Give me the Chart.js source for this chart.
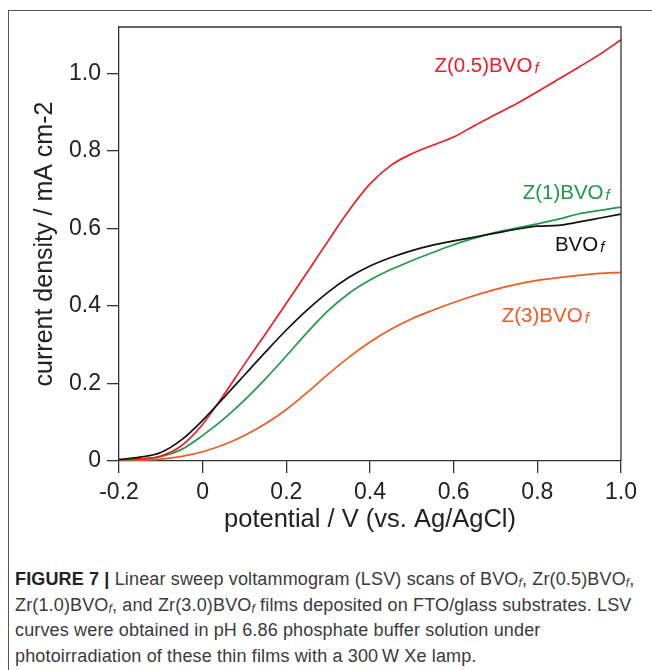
<!DOCTYPE html>
<html>
<head>
<meta charset="utf-8">
<script src="https://cdn.jsdelivr.net/npm/chart.js@4.4.1/dist/chart.umd.min.js"></script>
<style>
  html, body { margin: 0; padding: 0; background: #fff; }
  body { width: 652px; height: 670px; position: relative; overflow: hidden; font-family: "Liberation Sans", Arial, sans-serif; }
  #frame { position: absolute; left: 8px; top: 10px; width: 700px; height: 700px; border-top: 1px solid #555; border-left: 1px solid #555; }
  #wrap { position: absolute; left: 0; top: 0; width: 652px; height: 545px; }
  #caption { position: absolute; left: 15px; top: 567px; width: 640px; font-size: 18px; letter-spacing: 0.15px; line-height: 25.7px; color: #3a3a3a; white-space: nowrap; }
  #caption b { color: #222; }
  #caption sub { font-size: 12px; vertical-align: -2px; line-height: 0; }
</style>
</head>
<body>
<div id="frame"></div>
<div id="wrap"><canvas id="c" width="652" height="545"></canvas></div>
<div id="caption">
<b>FIGURE 7 |</b> Linear sweep voltammogram (LSV) scans of BVO<sub><i>f</i></sub>, Zr(0.5)BVO<sub><i>f</i></sub>,<br>
Zr(1.0)BVO<sub><i>f</i></sub>, and Zr(3.0)BVO<sub><i>f</i></sub> films deposited on FTO/glass substrates. LSV<br>
curves were obtained in pH 6.86 phosphate buffer solution under<br>
photoirradiation of these thin films with a 300&#8201;W Xe lamp.
</div>
<script>
// ---- data ----
const potential = [-0.2,-0.15,-0.1,-0.05,0,0.05,0.1,0.15,0.2,0.25,0.3,0.35,0.4,0.45,0.5,0.55,0.6,0.65,0.7,0.75,0.8,0.85,0.9,0.95,1.0];
const bvo   = [0.004,0.010,0.022,0.055,0.105,0.163,0.222,0.281,0.338,0.390,0.436,0.474,0.503,0.525,0.543,0.557,0.568,0.578,0.588,0.598,0.606,0.608,0.617,0.627,0.637];
const zr05  = [0.003,0.006,0.013,0.040,0.095,0.170,0.250,0.328,0.407,0.487,0.568,0.647,0.715,0.763,0.793,0.815,0.836,0.866,0.894,0.922,0.953,0.985,1.017,1.050,1.087];
const zr1   = [0.003,0.005,0.011,0.030,0.066,0.108,0.157,0.212,0.271,0.332,0.388,0.433,0.467,0.494,0.517,0.538,0.558,0.575,0.590,0.601,0.612,0.624,0.638,0.647,0.655];
const zr3   = [0.000,0.002,0.005,0.012,0.024,0.042,0.066,0.096,0.133,0.177,0.224,0.268,0.307,0.340,0.367,0.389,0.409,0.427,0.443,0.456,0.466,0.473,0.479,0.484,0.487];
const seriesNames = ['BVO', 'Z(0.5)BVO', 'Z(1)BVO', 'Z(3)BVO'];
const seriesColors = ['#111111', '#ee1c25', '#1f9a4a', '#f15a24'];
const xTickLabels = ['-0.2','0','0.2','0.4','0.6','0.8','1.0'];
const yTickLabels = ['0','0.2','0.4','0.6','0.8','1.0'];
// label anchor positions in data units: [potential, current]
const labelAnchors = [[0.842, 0.541], [0.554, 1.003], [0.765, 0.675], [0.715, 0.358]];

const seriesValues = [bvo, zr05, zr1, zr3];
const FONT = '"Liberation Sans", Arial, sans-serif';

const datasets = seriesValues.map((vals, i) => ({
  label: seriesNames[i],
  data: potential.map((p, k) => ({x: p, y: vals[k]})),
  borderColor: seriesColors[i],
  borderWidth: 1.7,
  pointRadius: 0,
  fill: false,
  cubicInterpolationMode: 'monotone'
}));

const framePlugin = {
  id: 'frameAndLabels',
  afterDatasetsDraw(chart) {
    const {ctx, chartArea: a, scales} = chart;
    ctx.save();
    ctx.strokeStyle = '#333';
    ctx.lineWidth = 1.3;
    ctx.beginPath();
    ctx.moveTo(a.left, a.top);
    ctx.lineTo(a.right, a.top);
    ctx.lineTo(a.right, a.bottom);
    ctx.stroke();
    // series labels
    labelAnchors.forEach((pt, i) => {
      const x = scales.x.getPixelForValue(pt[0]);
      const y = scales.y.getPixelForValue(pt[1]);
      ctx.fillStyle = seriesColors[i];
      ctx.textBaseline = 'alphabetic';
      ctx.textAlign = 'left';
      ctx.font = '20.5px ' + FONT;
      ctx.fillText(seriesNames[i], x, y);
      const w = ctx.measureText(seriesNames[i]).width;
      ctx.font = 'italic 15px ' + FONT;
      ctx.fillText('f', x + w + 2, y + 1);
    });
    ctx.restore();
  }
};

new Chart(document.getElementById('c'), {
  type: 'line',
  data: { datasets },
  options: {
    responsive: false,
    animation: false,
    events: [],
    layout: { padding: { top: 27, right: 31, left: 0, bottom: 0 } },
    plugins: { legend: { display: false }, tooltip: { enabled: false } },
    scales: {
      x: {
        type: 'linear',
        min: -0.2, max: 1.0,
        afterFit(s) { s.height = 84; },
        ticks: {
          stepSize: 0.2, includeBounds: false, padding: 6,
          color: '#222', font: { family: FONT, size: 23 },
          maxRotation: 0,
          callback: (v) => xTickLabels[Math.round((v + 0.2) / 0.2)] ?? ''
        },
        grid: { drawOnChartArea: false, drawTicks: true, tickLength: 12, color: '#333', lineWidth: 1.3 },
        border: { color: '#333', width: 1.3 },
        title: { display: true, text: 'potential / V (vs. Ag/AgCl)', color: '#222', font: { family: FONT, size: 25.5 }, padding: { top: 0, bottom: 10 } }
      },
      y: {
        type: 'linear',
        min: 0, max: 1.12,
        afterFit(s) { s.width = 119; },
        ticks: {
          stepSize: 0.2, includeBounds: false, padding: 6,
          color: '#222', font: { family: FONT, size: 23 },
          callback: (v) => yTickLabels[Math.round(v / 0.2)] ?? ''
        },
        grid: { drawOnChartArea: false, drawTicks: true, tickLength: 12, color: '#333', lineWidth: 1.3 },
        border: { color: '#333', width: 1.3 },
        title: { display: true, text: 'current density / mA cm-2', color: '#222', font: { family: FONT, size: 25 }, padding: { top: 30, bottom: 0 } }
      }
    }
  },
  plugins: [framePlugin]
});
</script>
</body>
</html>
